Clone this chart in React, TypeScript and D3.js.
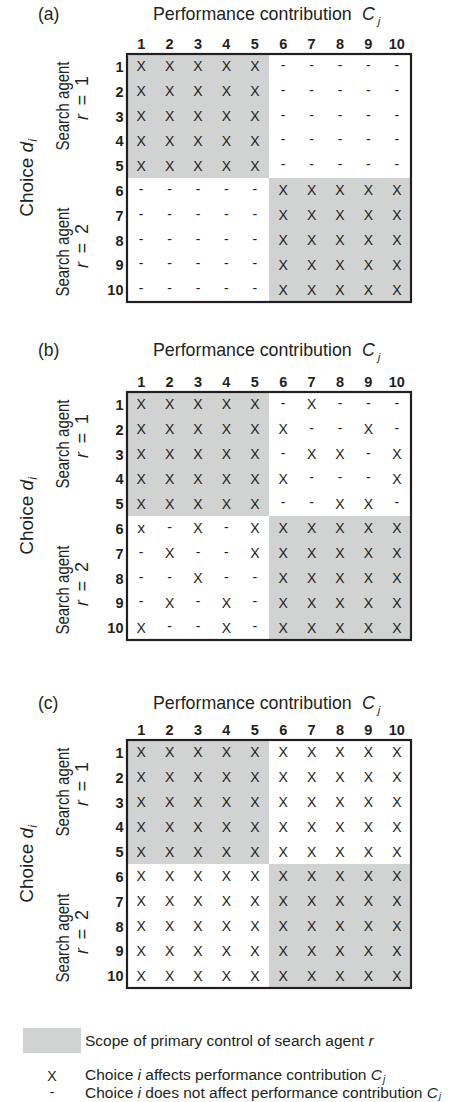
import React from "react";
import * as d3 from "d3";

const W = 459;
const H = 1102;

// Choice indices (rows) and performance contributions (columns)
const CHOICES = ["1", "2", "3", "4", "5", "6", "7", "8", "9", "10"];
const CONTRIBUTIONS = ["1", "2", "3", "4", "5", "6", "7", "8", "9", "10"];
// search agent r responsible for each choice / contribution index
const AGENT_OF = [1, 1, 1, 1, 1, 2, 2, 2, 2, 2];
const AGENTS = [1, 2];

const PANEL_TAGS = ["(a)", "(b)", "(c)"];

// "X" = choice i affects contribution C_j, "-" = does not
const MATRIX_A = [
  "XXXXX-----",
  "XXXXX-----",
  "XXXXX-----",
  "XXXXX-----",
  "XXXXX-----",
  "-----XXXXX",
  "-----XXXXX",
  "-----XXXXX",
  "-----XXXXX",
  "-----XXXXX",
];
const MATRIX_B = [
  "XXXXX-X---",
  "XXXXXX--X-",
  "XXXXX-XX-X",
  "XXXXXX---X",
  "XXXXX--XX-",
  "x-X-XXXXXX",
  "-X--XXXXXX",
  "--X--XXXXX",
  "-X-X-XXXXX",
  "X--X-XXXXX",
];
const MATRIX_C = [
  "XXXXXXXXXX",
  "XXXXXXXXXX",
  "XXXXXXXXXX",
  "XXXXXXXXXX",
  "XXXXXXXXXX",
  "XXXXXXXXXX",
  "XXXXXXXXXX",
  "XXXXXXXXXX",
  "XXXXXXXXXX",
  "XXXXXXXXXX",
];
const MATRICES = [MATRIX_A, MATRIX_B, MATRIX_C];

const TITLE_TEXT = "Performance contribution";
const ROW_AXIS_TEXT = "Choice ";
const AGENT_TEXT = "Search agent";

const LEGEND_SCOPE = "Scope of primary control of search agent ";
const LEGEND_X_SYMBOL = "X";
const LEGEND_DASH_SYMBOL = "-";

// layout
const PANEL_TOPS = [54, 392, 740];
const TITLE_BASE = [20, 356, 709];
const GRID_LEFT = 127;
const GRID_RIGHT = 411;
const GRID_H = 248;

const FONT = "'Liberation Sans', Arial, Helvetica, sans-serif";
const INK = "#231f20";
const GREY = "#d1d3d2";

function Panel({ idx }: { idx: number }) {
  const top = PANEL_TOPS[idx];
  const matrix = MATRICES[idx];
  const x = d3.scaleBand<string>().domain(CONTRIBUTIONS).range([GRID_LEFT, GRID_RIGHT]);
  const y = d3.scaleBand<string>().domain(CHOICES).range([0, GRID_H]);
  const bw = x.bandwidth();
  const bh = y.bandwidth();

  const blocks = AGENTS.map((a) => {
    const idxs = AGENT_OF.map((v, i) => (v === a ? i : -1)).filter((i) => i >= 0);
    const c0 = CONTRIBUTIONS[idxs[0]];
    const c1 = CONTRIBUTIONS[idxs[idxs.length - 1]];
    const r0 = CHOICES[idxs[0]];
    const r1 = CHOICES[idxs[idxs.length - 1]];
    return {
      a,
      x0: x(c0)!,
      x1: x(c1)! + bw,
      y0: y(r0)!,
      y1: y(r1)! + bh,
    };
  });

  const titleY = TITLE_BASE[idx];

  return (
    <g>
      {/* panel tag and title */}
      <text x={38} y={titleY} fontSize={17.5} fill={INK}>
        {PANEL_TAGS[idx]}
      </text>
      <text x={153} y={titleY} fontSize={17.8} fill={INK}>
        {TITLE_TEXT}
      </text>
      <text x={362} y={titleY} fontSize={17.8} fill={INK} fontStyle="italic">
        C
        <tspan fontSize={11} dy={5} dx={3}>j</tspan>
      </text>

      <g transform={`translate(0,${top})`}>
        {/* column headers */}
        {CONTRIBUTIONS.map((c) => (
          <text
            key={"h" + c}
            x={x(c)! + bw / 2}
            y={-5.5}
            textAnchor="middle"
            fontSize={14.5}
            fontWeight="bold"
            fill={INK}
          >
            {c}
          </text>
        ))}
        {/* row labels */}
        {CHOICES.map((r) => (
          <text
            key={"r" + r}
            x={123.5}
            y={y(r)! + bh / 2 + 5.5}
            textAnchor="end"
            fontSize={14.5}
            fontWeight="bold"
            fill={INK}
          >
            {r}
          </text>
        ))}

        {/* shaded scope of primary control */}
        {blocks.map((b) => (
          <rect
            key={"b" + b.a}
            x={b.x0}
            y={b.y0}
            width={b.x1 - b.x0}
            height={b.y1 - b.y0}
            fill={GREY}
          />
        ))}

        {/* cell marks */}
        {matrix.map((row, ri) =>
          row.split("").map((ch, ci) => {
            const cx = x(CONTRIBUTIONS[ci])! + bw / 2;
            const cy = y(CHOICES[ri])! + bh / 2;
            const isDash = ch === "-";
            const lower = ch === "x";
            return (
              <text
                key={`m${ri}-${ci}`}
                x={cx}
                y={isDash ? cy + 3.5 : cy + 5}
                textAnchor="middle"
                fontSize={lower ? 15 : 14}
                fill={INK}
              >
                {ch}
              </text>
            );
          })
        )}

        {/* border */}
        <rect
          x={GRID_LEFT}
          y={0}
          width={GRID_RIGHT - GRID_LEFT}
          height={GRID_H}
          fill="none"
          stroke={INK}
          strokeWidth={2.2}
        />

        {/* rotated axis labels */}
        <text
          transform={`translate(33,${124}) rotate(-90)`}
          textAnchor="middle"
          fontSize={19}
          fill={INK}
        >
          {ROW_AXIS_TEXT}
          <tspan fontStyle="italic">d</tspan>
          <tspan fontStyle="italic" fontSize={12} dy={4}>i</tspan>
        </text>

        {AGENTS.map((a, k) => {
          const saY = k === 0 ? 52 : 198;
          const rY = k === 0 ? 44 : 192;
          return (
            <g key={"ag" + a}>
              <text
                transform={`translate(69,${saY}) rotate(-90)`}
                textAnchor="middle"
                fontSize={18}
                textLength={89}
                lengthAdjust="spacingAndGlyphs"
                fill={INK}
              >
                {AGENT_TEXT}
              </text>
              <text
                transform={`translate(88,${rY}) rotate(-90)`}
                textAnchor="middle"
                fontSize={18}
                textLength={44}
                lengthAdjust="spacing"
                fill={INK}
              >
                <tspan fontStyle="italic">r</tspan>
                {" = " + a}
              </text>
            </g>
          );
        })}
      </g>
    </g>
  );
}

export default function App() {
  return (
    <svg
      width={W}
      height={H}
      style={{ position: "absolute", left: 0, top: 0, background: "#fff" }}
      fontFamily={FONT}
    >
      <rect x={0} y={0} width={W} height={H} fill="#fff" />
      {MATRICES.map((_, i) => (
        <Panel key={i} idx={i} />
      ))}

      {/* legend */}
      <rect x={23} y={1028} width={58} height={25} fill={GREY} />
      <text x={85} y={1046} fontSize={15.5} fill={INK}>
        {LEGEND_SCOPE}
        <tspan fontStyle="italic">r</tspan>
      </text>

      <text x={52} y={1081} textAnchor="middle" fontSize={14} fill={INK}>
        {LEGEND_X_SYMBOL}
      </text>
      <text x={85} y={1080} fontSize={15.5} fill={INK}>
        {"Choice "}
        <tspan fontStyle="italic">i</tspan>
        {" affects performance contribution "}
        <tspan fontStyle="italic">C</tspan>
        <tspan fontStyle="italic" fontSize={10} dy={3} dx={1}>j</tspan>
      </text>

      <text x={52} y={1097} textAnchor="middle" fontSize={14} fill={INK}>
        {LEGEND_DASH_SYMBOL}
      </text>
      <text x={85} y={1097.5} fontSize={15.5} fill={INK}>
        {"Choice "}
        <tspan fontStyle="italic">i</tspan>
        {" does not affect performance contribution "}
        <tspan fontStyle="italic">C</tspan>
        <tspan fontStyle="italic" fontSize={9} dy={1.5} dx={1}>j</tspan>
      </text>
    </svg>
  );
}
